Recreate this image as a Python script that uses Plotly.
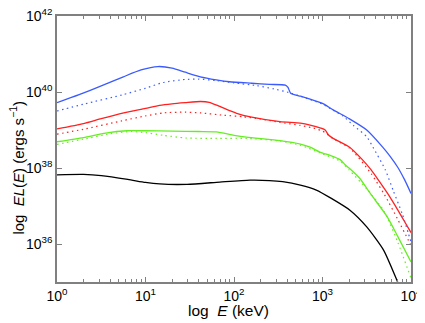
import numpy as np
import plotly.graph_objects as go

# log10 E (keV) and log10 EL(E) (ergs/s)
blue_x = [0.0, 0.25, 0.5, 0.75, 0.95, 1.14, 1.3, 1.45, 1.62, 1.8, 1.95, 2.2, 2.4, 2.58, 2.61, 2.64, 2.75, 2.86, 3.0, 3.12, 3.3, 3.5, 3.68, 3.76, 3.85, 3.93, 4.0]
blue_y = [39.72, 39.93, 40.16, 40.40, 40.58, 40.67, 40.63, 40.52, 40.40, 40.32, 40.27, 40.23, 40.20, 40.18, 40.12, 39.97, 39.89, 39.81, 39.70, 39.53, 39.30, 39.00, 38.55, 38.32, 38.02, 37.68, 37.33]
blue_dot_x = [0.0, 0.3, 0.73, 1.0, 1.2, 1.45, 1.6, 1.8, 2.0, 2.25, 2.45, 2.6, 2.64, 2.75, 2.86, 3.0, 3.12, 3.23, 3.35, 3.5, 3.57, 3.71, 3.8, 3.9, 3.97, 4.0]
blue_dot_y = [39.50, 39.68, 39.92, 40.10, 40.25, 40.33, 40.34, 40.30, 40.24, 40.17, 40.08, 40.00, 39.97, 39.89, 39.80, 39.68, 39.52, 39.37, 39.12, 38.82, 38.55, 37.95, 37.40, 36.80, 36.28, 36.05]
red_x = [0.0, 0.3, 0.5, 0.73, 1.0, 1.16, 1.3, 1.45, 1.62, 1.72, 1.84, 2.03, 2.2, 2.52, 2.75, 2.86, 2.98, 3.03, 3.07, 3.12, 3.31, 3.45, 3.55, 3.65, 3.75, 3.85, 3.93, 4.0]
red_y = [39.03, 39.17, 39.30, 39.44, 39.57, 39.65, 39.69, 39.72, 39.75, 39.73, 39.62, 39.44, 39.34, 39.22, 39.18, 39.13, 39.05, 39.00, 38.86, 38.78, 38.54, 38.22, 37.95, 37.62, 37.28, 36.90, 36.58, 36.30]
red_dot_x = [0.0, 0.3, 0.73, 1.0, 1.2, 1.45, 1.62, 1.88, 2.1, 2.3, 2.52, 2.75, 2.9, 3.0, 3.05, 3.1, 3.31, 3.55, 3.7, 3.85, 3.97, 4.0]
red_dot_y = [38.89, 39.02, 39.24, 39.37, 39.45, 39.47, 39.45, 39.39, 39.35, 39.29, 39.20, 39.12, 39.05, 38.97, 38.90, 38.80, 38.52, 37.85, 37.30, 36.65, 36.10, 35.97]
green_x = [0.0, 0.3, 0.55, 0.79, 1.0, 1.3, 1.6, 1.8, 2.0, 2.14, 2.52, 2.75, 2.86, 2.97, 3.1, 3.2, 3.25, 3.3, 3.42, 3.54, 3.73, 3.85, 4.0]
green_y = [38.69, 38.80, 38.92, 38.98, 38.98, 38.97, 38.96, 38.95, 38.86, 38.81, 38.72, 38.63, 38.55, 38.42, 38.32, 38.22, 38.10, 38.00, 37.73, 37.33, 36.72, 36.20, 35.53]
green_dot_x = [0.0, 0.3, 0.6, 0.84, 1.0, 1.2, 1.45, 1.8, 2.14, 2.52, 2.75, 2.97, 3.2, 3.3, 3.5, 3.7, 3.85, 4.0]
green_dot_y = [38.62, 38.76, 38.90, 38.96, 38.93, 38.86, 38.79, 38.78, 38.78, 38.71, 38.60, 38.40, 38.18, 37.95, 37.45, 36.85, 36.05, 35.10]
black_x = [0.0, 0.3, 0.5, 0.8, 1.0, 1.16, 1.47, 1.84, 2.18, 2.4, 2.55, 2.75, 2.93, 3.1, 3.31, 3.5, 3.69, 3.84, 3.9]
black_y = [37.82, 37.83, 37.80, 37.70, 37.62, 37.58, 37.57, 37.63, 37.68, 37.67, 37.64, 37.55, 37.42, 37.20, 36.89, 36.45, 35.84, 35.05, 34.70]

x_tick_exp = [0, 1, 2, 3, 4]
y_tick_exp = [36, 38, 40, 42]
x_minor_mult = [2, 3, 4, 5, 6, 7, 8, 9]
x_title = "log  <i>E</i> (keV)"
y_title = "log  <i>EL</i>(<i>E</i>) (ergs s<sup>\u22121</sup>)"

BLUE = "#3b5bff"
RED = "#ff2020"
GREEN = "#66ee22"
BLACK = "#000000"

series = [
    (blue_dot_x, blue_dot_y, BLUE, "1.5px,3.5px", 1.2),
    (red_dot_x, red_dot_y, RED, "1.5px,3.5px", 1.2),
    (green_dot_x, green_dot_y, GREEN, "1.5px,3.5px", 1.2),
    (blue_x, blue_y, BLUE, "solid", 1.3),
    (red_x, red_y, RED, "solid", 1.3),
    (green_x, green_y, GREEN, "solid", 1.3),
    (black_x, black_y, BLACK, "solid", 1.3),
]

fig = go.Figure()
for xs, ys, col, dash, w in series:
    fig.add_trace(go.Scatter(
        x=10.0 ** np.array(xs), y=10.0 ** np.array(ys), mode="lines",
        line=dict(color=col, dash=dash, width=w, shape="spline", smoothing=0.6),
        showlegend=False, hoverinfo="skip"))

# invisible trace to anchor the major-tick overlay axis
fig.add_trace(go.Scatter(x=[1.0, 1e4], y=[1e36, 1e36], xaxis="x2", mode="lines",
                         line=dict(width=0), showlegend=False, hoverinfo="skip"))

minor_vals = [m * 10.0 ** e for e in x_tick_exp[:-1] for m in x_minor_mult]

FONT = "Liberation Sans, Arial, sans-serif"
AX = "#808080"
# page body adds an 8px offset; figure size/margins compensate for it
fig.update_layout(
    width=417, height=315,
    margin=dict(l=49, r=14, t=8, b=41, autoexpand=False),
    paper_bgcolor="white", plot_bgcolor="white",
    font=dict(family=FONT, size=13, color="black"),
    xaxis=dict(
        type="log", range=[0, 4], automargin=False, ticklabeloverflow="allow",
        tickvals=[10.0 ** e for e in x_tick_exp] + minor_vals,
        ticktext=[f"10<sup>{e}</sup>" for e in x_tick_exp] + [""] * len(minor_vals),
        ticks="inside", ticklen=3, tickcolor=AX, tickwidth=1,
        showline=True, linecolor=AX, linewidth=1.5, mirror="ticks",
        showgrid=False, zeroline=False,
        tickfont=dict(size=14),
    ),
    xaxis2=dict(
        type="log", range=[0, 4], overlaying="x", automargin=False,
        tickvals=[10.0 ** e for e in x_tick_exp],
        ticks="inside", ticklen=5, tickcolor=AX, tickwidth=1,
        showticklabels=False, showline=False, mirror="ticks",
        showgrid=False, zeroline=False,
    ),
    yaxis=dict(
        type="log", range=[35, 42], automargin=False, ticklabeloverflow="allow",
        tickvals=[10.0 ** e for e in y_tick_exp],
        ticktext=[f"10<sup>{e}</sup>" for e in y_tick_exp],
        ticks="inside", ticklen=5, tickcolor=AX, tickwidth=1,
        showline=True, linecolor=AX, linewidth=1.5, mirror="ticks",
        showgrid=False, zeroline=False,
        tickfont=dict(size=14),
    ),
    annotations=[
        dict(text=x_title, xref="paper", yref="paper", x=0.485, y=-0.109,
             xanchor="center", yanchor="middle", showarrow=False,
             font=dict(size=15.5, family=FONT)),
        dict(text=y_title, xref="paper", yref="paper", x=-0.113, y=0.43,
             xanchor="center", yanchor="middle", showarrow=False, textangle=-90,
             font=dict(size=15, family=FONT)),
    ],
)

fig.write_html("out.html")
